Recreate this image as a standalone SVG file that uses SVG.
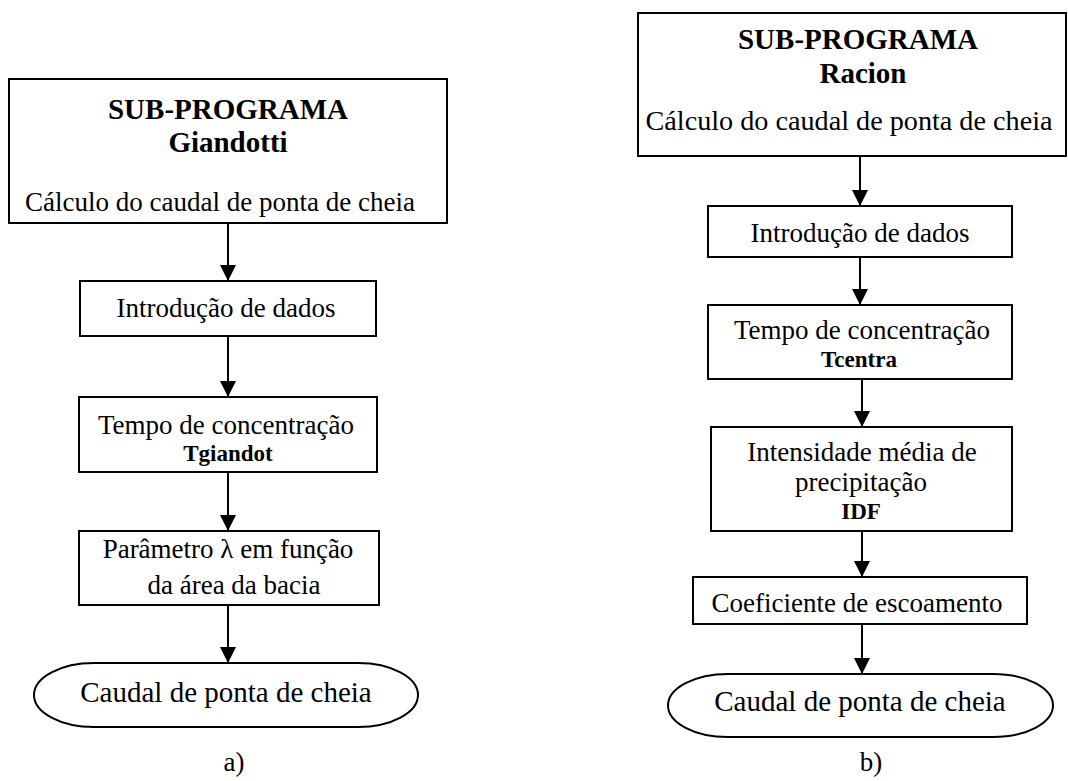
<svg xmlns="http://www.w3.org/2000/svg" width="1068" height="781" viewBox="0 0 1068 781">
<style>
.box{fill:#fff;stroke:#000;stroke-width:2}
.t{font-family:"Liberation Serif","Times New Roman",serif;font-size:27px;fill:#000;text-anchor:middle}
.b{font-weight:bold;font-size:23px}
.h{font-size:29px;font-weight:bold}
.e{font-size:29px}
.c{stroke:#000;stroke-width:2;fill:none}
</style>
<defs>
<marker id="ah" markerUnits="userSpaceOnUse" markerWidth="16" markerHeight="16" viewBox="0 0 16 16" refX="16" refY="8" orient="auto">
<path d="M0,0 L16,8 L0,16 Z" fill="#000"/>
</marker>
</defs>
<rect width="1068" height="781" fill="#fff"/>
<g id="connectors">
<line class="c" x1="228" y1="223" x2="228" y2="281" marker-end="url(#ah)"/>
<line class="c" x1="228" y1="336" x2="228" y2="397" marker-end="url(#ah)"/>
<line class="c" x1="228" y1="472" x2="228" y2="531" marker-end="url(#ah)"/>
<line class="c" x1="228" y1="605" x2="228" y2="663" marker-end="url(#ah)"/>
<line class="c" x1="860" y1="156" x2="860" y2="206" marker-end="url(#ah)"/>
<line class="c" x1="860" y1="257" x2="860" y2="305" marker-end="url(#ah)"/>
<line class="c" x1="862" y1="379" x2="862" y2="427" marker-end="url(#ah)"/>
<line class="c" x1="862" y1="531" x2="862" y2="577" marker-end="url(#ah)"/>
<line class="c" x1="862" y1="624" x2="862" y2="674" marker-end="url(#ah)"/>
</g>
<g id="a-sub">
<rect class="box" x="9" y="79" width="438" height="144"/>
<text class="t h" x="228" y="119">SUB-PROGRAMA</text>
<text class="t h" x="228" y="152">Giandotti</text>
<text class="t" x="220" y="211">Cálculo do caudal de ponta de cheia</text>
</g>
<g id="a-intro">
<rect class="box" x="80" y="281" width="296" height="55"/>
<text class="t" x="226" y="317">Introdução de dados</text>
</g>
<g id="a-tempo">
<rect class="box" x="79" y="397" width="298" height="75"/>
<text class="t" x="226" y="434">Tempo de concentração</text>
<text class="t b" x="228" y="461">Tgiandot</text>
</g>
<g id="a-param">
<rect class="box" x="79" y="531" width="300" height="74"/>
<text class="t" x="228" y="558">Parâmetro λ em função</text>
<text class="t" x="234" y="594">da área da bacia</text>
</g>
<g id="a-end">
<rect class="box" x="34" y="663" width="384" height="64" rx="60" ry="32"/>
<text class="t e" x="226" y="702">Caudal de ponta de cheia</text>
</g>
<text class="t" x="234" y="771">a)</text>
<g id="b-sub">
<rect class="box" x="638" y="13" width="428" height="143"/>
<text class="t h" x="858" y="49">SUB-PROGRAMA</text>
<text class="t h" x="863" y="83">Racion</text>
<text class="t" x="849" y="130" style="font-size:28.2px">Cálculo do caudal de ponta de cheia</text>
</g>
<g id="b-intro">
<rect class="box" x="708" y="206" width="304" height="51"/>
<text class="t" x="860" y="242">Introdução de dados</text>
</g>
<g id="b-tempo">
<rect class="box" x="708" y="305" width="304" height="74"/>
<text class="t" x="862" y="339">Tempo de concentração</text>
<text class="t b" x="859" y="367">Tcentra</text>
</g>
<g id="b-idf">
<rect class="box" x="711" y="427" width="301" height="104"/>
<text class="t" x="862" y="461">Intensidade média de</text>
<text class="t" x="861" y="491">precipitação</text>
<text class="t b" x="861" y="519">IDF</text>
</g>
<g id="b-coef">
<rect class="box" x="693" y="577" width="334" height="47"/>
<text class="t" x="857" y="612">Coeficiente de escoamento</text>
</g>
<g id="b-end">
<rect class="box" x="668" y="674" width="385" height="63" rx="60" ry="32"/>
<text class="t e" x="860" y="711">Caudal de ponta de cheia</text>
</g>
<text class="t" x="871" y="771">b)</text>
</svg>
